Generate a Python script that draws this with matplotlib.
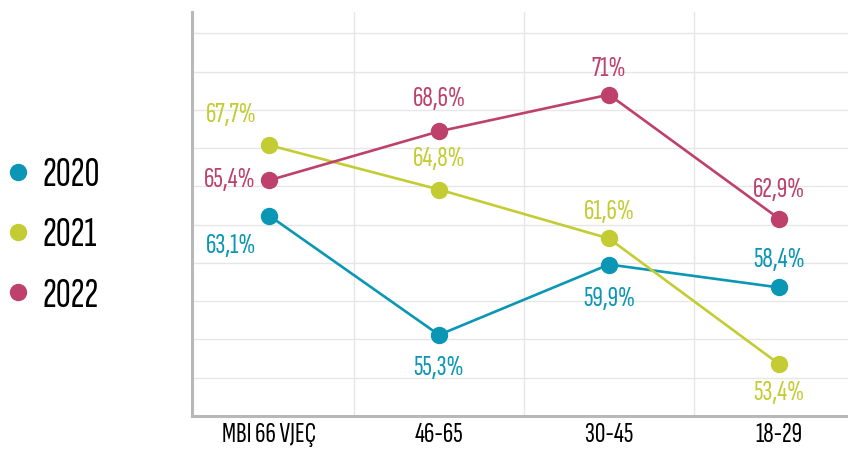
import matplotlib.pyplot as plt
from matplotlib.lines import Line2D

categories = ['MBI 66 VJEÇ', '46-65', '30-45', '18-29']
years = ['2020', '2021', '2022']
v2020 = [63.1, 55.3, 59.9, 58.4]
v2021 = [67.7, 64.8, 61.6, 53.4]
v2022 = [65.4, 68.6, 71.0, 62.9]

colors = ['#0a96b4', '#c4cc33', '#be416b']
# label offsets in pixels (dx, dy) for each point
offsets = [
    [(-38, -30), (0, -33), (0, -34), (0, 27)],
    [(-38, 30), (0, 31), (0, 26), (0, -29)],
    [(-39, 0), (0, 32), (0, 26), (0, 29)],
]

plt.rcParams['font.family'] = ['Sofia Sans Extra Condensed', 'DejaVu Sans']

fig = plt.figure(figsize=(8.48, 4.51), dpi=100)
ax = fig.add_axes([192 / 848, 35 / 451, 656 / 848, 404 / 451])

x = list(range(len(categories)))
series = [v2020, v2021, v2022]
for vals, col, offs in zip(series, colors, offsets):
    ax.plot(x, vals, color=col, lw=1.9, marker='o', ms=11.5, zorder=3)
    for xi, v, (dx, dy) in zip(x, vals, offs):
        txt = f"{v:g}%".replace('.', ',')
        ax.annotate(txt, (xi, v), xytext=(dx, dy), textcoords='offset pixels',
                    ha='center', va='center', color=col, fontsize=21)

ax.set_xlim(-0.453, 3.406)
ax.set_ylim(50, 76.4)
ax.set_yticks([50 + 2.5 * i for i in range(11)])
ax.set_xticks([0.5, 1.5, 2.5], minor=True)
ax.set_xticks(x)
ax.set_xticklabels(categories, fontsize=21)
ax.tick_params(axis='x', which='both', length=0, pad=5)
ax.tick_params(axis='y', length=0, labelleft=False)
ax.grid(axis='y', color='#e6e6e6', lw=1)
ax.grid(axis='x', which='minor', color='#e6e6e6', lw=1)
ax.grid(axis='x', which='major', visible=False)
ax.set_axisbelow(True)

for s in ['top', 'right']:
    ax.spines[s].set_visible(False)
for s in ['left', 'bottom']:
    ax.spines[s].set_color('#b8b8b8')
    ax.spines[s].set_linewidth(2.2)

handles = [Line2D([], [], ls='none', marker='o', ms=11.5, color=c) for c in colors]
fig.legend(handles, years, loc='center left', bbox_to_anchor=(0.006, 0.477),
           frameon=False, fontsize=30, labelspacing=0.55, handlelength=0.6,
           handletextpad=0.3, borderpad=0, borderaxespad=0)

fig.savefig('out.png', dpi=100)
